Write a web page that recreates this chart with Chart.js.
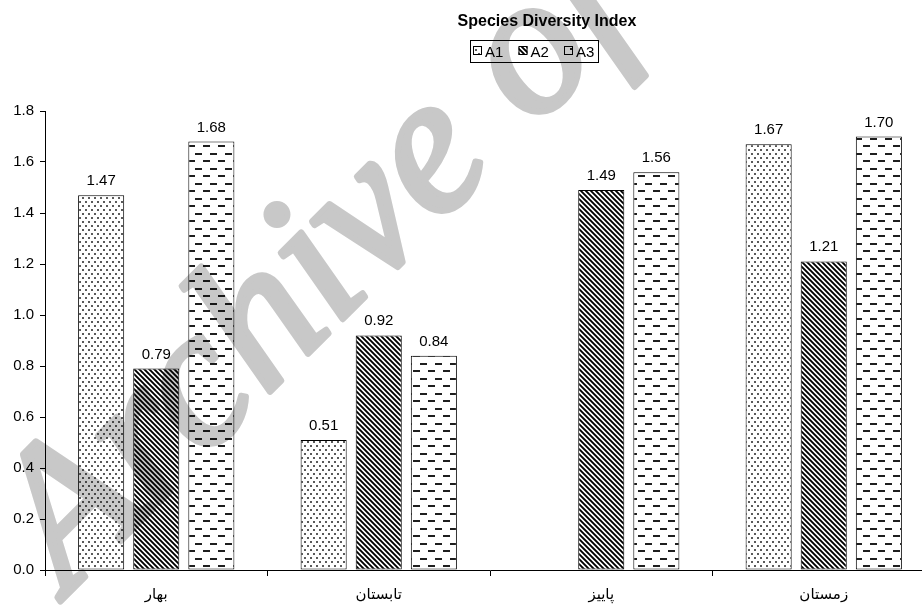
<!DOCTYPE html>
<html>
<head>
<meta charset="utf-8">
<script src="https://cdn.jsdelivr.net/npm/chart.js@4.4.1/dist/chart.umd.min.js"></script>
<style>
  html, body { margin: 0; padding: 0; background: #fff; overflow: hidden; }
  #wrap { position: relative; width: 940px; height: 607px; }
</style>
</head>
<body>
<div id="wrap"><canvas id="c" width="940" height="607"></canvas></div>
<script>
// Seasons (categories) and the three sampling series
const seasons = ['بهار', 'تابستان', 'پاییز', 'زمستان'];
const seriesNames = ['A1', 'A2', 'A3'];
const a1Values = [1.47, 0.51, null, 1.67];
const a2Values = [0.79, 0.92, 1.49, 1.21];
const a3Values = [1.68, 0.84, 1.56, 1.70];
const yTickValues = [0, 0.2, 0.4, 0.6, 0.8, 1.0, 1.2, 1.4, 1.6, 1.8];
const chartTitle = 'Species Diversity Index';
const watermarkText = 'Archive of';

const FONT = '"Liberation Sans", "DejaVu Sans", Arial, sans-serif';

// ---- hatch patterns -------------------------------------------------
function makeTile(w, h, draw) {
  const c = document.createElement('canvas');
  c.width = w; c.height = h;
  const g = c.getContext('2d');
  g.fillStyle = '#fff';
  g.fillRect(0, 0, w, h);
  draw(g, w, h);
  return c;
}
const canvas = document.getElementById('c');
const ctx = canvas.getContext('2d');

const dotTile = makeTile(6, 8, g => {
  g.fillStyle = '#5a5a5a';
  g.fillRect(1, 1, 2, 2);
  g.fillRect(4, 5, 2, 2);
});
const stripeTile = makeTile(10, 10, (g, w, h) => {
  g.strokeStyle = '#000';
  g.lineWidth = 1.9;
  g.beginPath();
  for (let k = -2; k <= 2; k++) {
    const o = k * 5;
    g.moveTo(o - 2, -2);
    g.lineTo(o + w + 2, h + 2);
  }
  g.stroke();
});
const dashTile = makeTile(15, 15, g => {
  g.fillStyle = '#1e1e1e';
  g.fillRect(0, 3, 7, 2);
  g.fillRect(8, 10, 7, 2);
});
const fills = [
  ctx.createPattern(dotTile, 'repeat'),
  ctx.createPattern(stripeTile, 'repeat'),
  ctx.createPattern(dashTile, 'repeat')
];
const seriesValues = [a1Values, a2Values, a3Values];

// ---- value labels above each bar -----------------------------------
const valueLabels = {
  id: 'valueLabels',
  afterDatasetsDraw(chart) {
    const c = chart.ctx;
    c.save();
    c.font = '15px ' + FONT;
    c.fillStyle = '#000';
    c.textAlign = 'center';
    c.textBaseline = 'alphabetic';
    chart.data.datasets.forEach((ds, di) => {
      const meta = chart.getDatasetMeta(di);
      meta.data.forEach((bar, i) => {
        const v = ds.data[i];
        if (v === null || v === undefined) return;
        c.fillText(v.toFixed(2), bar.x, bar.y - 10);
      });
    });
    c.restore();
  }
};

// ---- title and boxed legend -----------------------------------------
const header = {
  id: 'header',
  afterDraw(chart) {
    const c = chart.ctx;
    c.save();
    c.fillStyle = '#000';
    c.font = 'bold 16px ' + FONT;
    c.textAlign = 'center';
    c.textBaseline = 'alphabetic';
    c.fillText(chartTitle, 547, 26);

    // legend frame
    c.strokeStyle = '#000';
    c.lineWidth = 1;
    c.strokeRect(470.5, 40.5, 128, 22);
    c.font = '15px ' + FONT;
    c.textAlign = 'left';
    chart.data.datasets.forEach((ds, i) => {
      const x0 = 473 + i * 45.5;
      c.fillStyle = ds.backgroundColor;
      c.fillRect(x0, 46, 9, 9);
      c.strokeRect(x0 + 0.5, 46.5, 8, 8);
      c.fillStyle = '#000';
      c.fillText(ds.label, x0 + 12, 57);
    });
    c.restore();
  }
};

// ---- diagonal watermark, rendered apart then multiplied over the chart
const watermark = {
  id: 'watermark',
  afterDraw(chart) {
    const layer = document.createElement('canvas');
    layer.width = chart.width;
    layer.height = chart.height;
    const g = layer.getContext('2d');
    g.translate(68, 594);
    g.rotate(-45 * Math.PI / 180);
    g.font = 'italic 198px "Liberation Serif", "DejaVu Serif", serif';
    g.fillStyle = '#c8c8c8';
    g.strokeStyle = '#c8c8c8';
    g.lineWidth = 6;
    g.lineJoin = 'round';
    g.textBaseline = 'alphabetic';
    g.fillText(watermarkText, 0, 0);
    g.strokeText(watermarkText, 0, 0);

    const c = chart.ctx;
    c.save();
    c.globalCompositeOperation = 'multiply';
    c.drawImage(layer, 0, 0);
    c.restore();
  }
};

new Chart(ctx, {
  type: 'bar',
  data: {
    labels: seasons,
    datasets: seriesNames.map((name, i) => ({
      label: name,
      data: seriesValues[i],
      backgroundColor: fills[i],
      borderColor: '#000',
      borderWidth: 1,
      borderSkipped: false,
      categoryPercentage: 0.743,
      barPercentage: 0.836
    }))
  },
  options: {
    responsive: false,
    animation: false,
    devicePixelRatio: 1,
    layout: { padding: { top: 111, right: 5, bottom: 0, left: 0 } },
    plugins: {
      legend: { display: false },
      title: { display: false },
      tooltip: { enabled: false }
    },
    scales: {
      x: {
        grid: { display: true, drawOnChartArea: false, drawTicks: true, tickLength: 6, color: '#000', offset: true },
        border: { display: true, color: '#000', width: 1 },
        ticks: { color: '#000', font: { family: FONT, size: 15 }, padding: 10, maxRotation: 0 },
        afterFit(scale) { scale.height = 37; }
      },
      y: {
        min: 0,
        max: 1.8,
        afterBuildTicks(scale) { scale.ticks = yTickValues.map(v => ({ value: v })); },
        ticks: { color: '#000', font: { family: FONT, size: 15 }, padding: 6, callback: v => Number(v).toFixed(1) },
        grid: { drawOnChartArea: false, drawTicks: true, tickLength: 5, color: '#000' },
        border: { display: true, color: '#000', width: 1 },
        afterFit(scale) { scale.width = 45; }
      }
    }
  },
  plugins: [valueLabels, header, watermark]
});
</script>
</body>
</html>
